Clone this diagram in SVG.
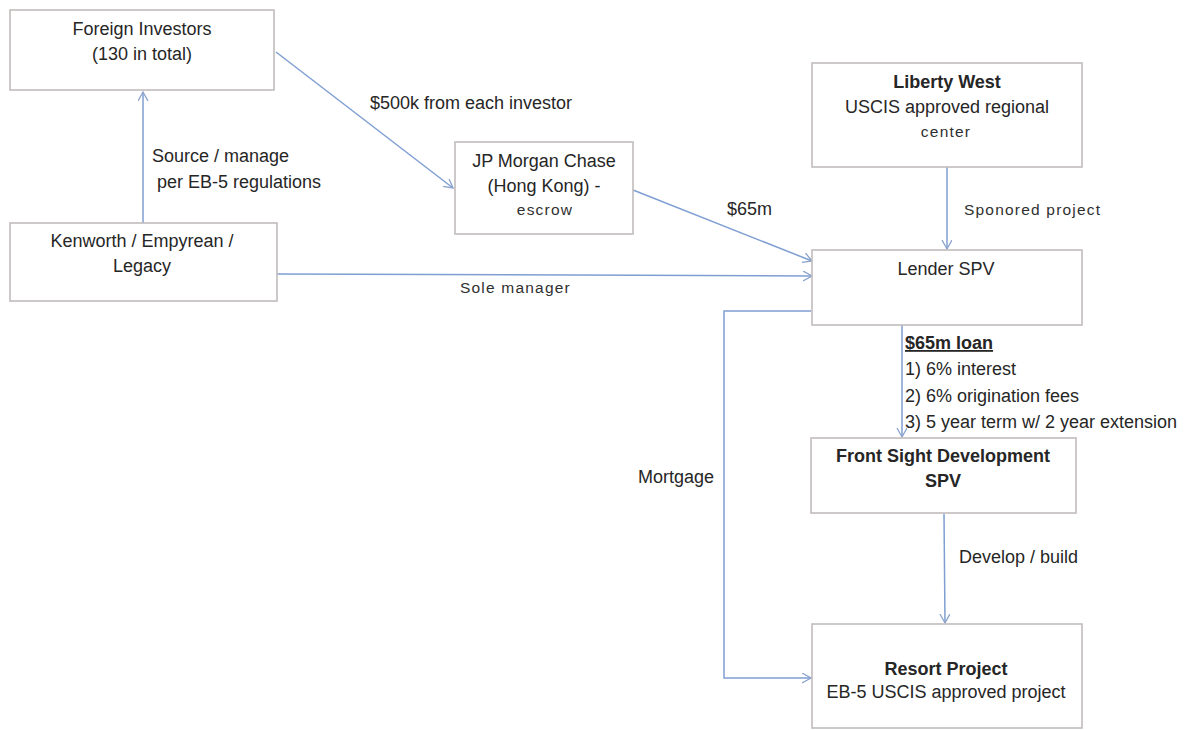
<svg xmlns="http://www.w3.org/2000/svg" width="1190" height="730" viewBox="0 0 1190 730">
  <style>
    .box { fill: #ffffff; stroke: #c2bcbc; stroke-width: 1.6; }
    .t { font-family: "Liberation Sans", Arial, sans-serif; font-size: 18px; fill: #262626; }
    .c { text-anchor: middle; }
    .b { font-weight: bold; }
    .sm { font-size: 15.5px; letter-spacing: 1.2px; fill: #303030; }
    .conn { fill: none; stroke: #7f9fd2; stroke-width: 1.5; }
  </style>
  <defs>
    <marker id="arr" markerUnits="userSpaceOnUse" markerWidth="12" markerHeight="12" refX="9" refY="5" orient="auto">
      <path d="M0,0 L9,5 L0,10" fill="none" stroke="#8aa2cc" stroke-width="1.3"/>
    </marker>
    <linearGradient id="g1" gradientUnits="userSpaceOnUse" x1="276" y1="52" x2="453" y2="188">
      <stop offset="0" stop-color="#a8a09c"/>
      <stop offset="0.6" stop-color="#a09ca8"/>
      <stop offset="1" stop-color="#7f9fd2"/>
    </linearGradient>
    <linearGradient id="g2" gradientUnits="userSpaceOnUse" x1="633" y1="190" x2="812" y2="261">
      <stop offset="0" stop-color="#a8a09c"/>
      <stop offset="0.4" stop-color="#8fa0c4"/>
      <stop offset="1" stop-color="#6f93d0"/>
    </linearGradient>
  </defs>

  <g id="connectors">
    <line class="conn" x1="143" y1="223" x2="143" y2="92" marker-end="url(#arr)"/>
    <line class="conn" x1="276" y1="52" x2="453" y2="188" stroke="url(#g1)" marker-end="url(#arr)"/>
    <line class="conn" x1="633" y1="190" x2="812" y2="261" stroke="url(#g2)" marker-end="url(#arr)"/>
    <line class="conn" x1="277" y1="274" x2="812" y2="276" marker-end="url(#arr)"/>
    <line class="conn" x1="947" y1="167" x2="947" y2="249" marker-end="url(#arr)"/>
    <line class="conn" x1="902" y1="325" x2="902" y2="437" marker-end="url(#arr)"/>
    <line class="conn" x1="944" y1="514" x2="945" y2="623" marker-end="url(#arr)"/>
    <polyline class="conn" points="811,311 724,311 724,678 811,678" stroke-width="2" marker-end="url(#arr)"/>
    <text class="t" x="152" y="162">Source / manage</text>
    <text class="t" x="157" y="188">per EB-5 regulations</text>
    <text class="t" x="370" y="109">$500k from each investor</text>
    <text class="t" x="727" y="215">$65m</text>
    <text class="t sm" x="460" y="293">Sole manager</text>
    <text class="t sm" x="964" y="215">Sponored project</text>
    <text class="t b" x="905" y="349" text-decoration="underline">$65m loan</text>
    <text class="t" x="905" y="375">1) 6% interest</text>
    <text class="t" x="905" y="402">2) 6% origination fees</text>
    <text class="t" x="905" y="428">3) 5 year term w/ 2 year extension</text>
    <text class="t" x="638" y="483">Mortgage</text>
    <text class="t" x="959" y="563">Develop / build</text>
  </g>

  <g id="foreign-investors">
    <rect class="box" x="10" y="10" width="264" height="80"/>
    <text class="t c" x="142" y="35">Foreign Investors</text>
    <text class="t c" x="142" y="60">(130 in total)</text>
  </g>

  <g id="kenworth">
    <rect class="box" x="10" y="223" width="267" height="78"/>
    <text class="t c" x="142" y="247">Kenworth / Empyrean /</text>
    <text class="t c" x="142" y="272">Legacy</text>
  </g>

  <g id="jp-morgan">
    <rect class="box" x="455" y="142" width="178" height="92"/>
    <text class="t c" x="544" y="167">JP Morgan Chase</text>
    <text class="t c" x="544" y="192">(Hong Kong) -</text>
    <text class="t c sm" x="545" y="215">escrow</text>
  </g>

  <g id="liberty-west">
    <rect class="box" x="812" y="63" width="270" height="104"/>
    <text class="t c b" x="947" y="88">Liberty West</text>
    <text class="t c" x="947" y="113">USCIS approved regional</text>
    <text class="t c sm" x="946" y="137">center</text>
  </g>

  <g id="lender-spv">
    <rect class="box" x="812" y="250" width="270" height="75"/>
    <text class="t c" x="946" y="275">Lender SPV</text>
  </g>

  <g id="front-sight">
    <rect class="box" x="811" y="438" width="265" height="75"/>
    <text class="t c b" x="943" y="462">Front Sight Development</text>
    <text class="t c b" x="943" y="487">SPV</text>
  </g>

  <g id="resort-project">
    <rect class="box" x="812" y="624" width="270" height="104"/>
    <text class="t c b" x="946" y="675">Resort Project</text>
    <text class="t c" x="946" y="698">EB-5 USCIS approved project</text>
  </g>
</svg>
